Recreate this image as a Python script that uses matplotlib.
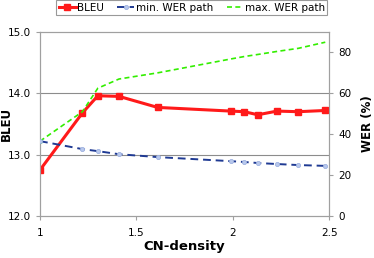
import matplotlib
matplotlib.use("Agg")
import matplotlib.pyplot as plt

plt.rcParams['font.family'] = ['DejaVu Sans']

bleu_x = [1.0, 1.22, 1.30, 1.41, 1.61, 1.99, 2.06, 2.13, 2.23, 2.34, 2.48]
bleu_y = [12.75, 13.68, 13.96, 13.95, 13.77, 13.71, 13.70, 13.65, 13.71, 13.70, 13.72]
min_wer = [36.6, 32.7, 31.7, 30.2, 28.8, 26.8, 26.4, 25.9, 25.4, 24.9, 24.5]
max_wer = [36.6, 51.0, 62.5, 67.0, 70.0, 76.8, 78.0, 79.0, 80.5, 82.0, 85.0]

xticks = [1, 1.5, 2, 2.5]
xtick_labels = ["1", "1.5", "2", "2.5"]
bleu_ticks = [12.0, 13.0, 14.0, 15.0]
wer_ticks = [0, 20, 40, 60, 80]

fig = plt.figure(figsize=(3.74, 2.58), dpi=100)
ax = fig.add_axes([0.107, 0.163, 0.773, 0.713])
ax2 = ax.twinx()

ax.set_xlim(1, 2.5)
ax.set_ylim(12, 15)
ax2.set_ylim(0, 90)

ax.set_yticks(bleu_ticks)
ax.set_yticklabels([f"{t:.1f}" for t in bleu_ticks])
ax.set_xticks(xticks)
ax.set_xticklabels(xtick_labels)
ax2.set_yticks(wer_ticks)

for y in [13.0, 14.0]:
    ax.axhline(y, color='#8c8c8c', lw=0.8, zorder=0)

l1, = ax.plot(bleu_x, bleu_y, color='#ff1a1a', lw=2.2, marker='s', ms=4,
              mfc='#ff1a1a', mec='#ff1a1a', zorder=5, label='BLEU')
l2, = ax2.plot(bleu_x, min_wer, color='#1f3a93', lw=1.4, ls=(0, (4, 2.5)),
               marker='o', ms=3, mfc='#b8c8ec', mec='#9fb2e0', mew=0.6,
               zorder=4, label='min. WER path')
l3, = ax2.plot(bleu_x, max_wer, color='#33ee00', lw=1.2, ls=(0, (3, 2)),
               zorder=3, label='max. WER path')
ax2.plot(bleu_x[:1], max_wer[:1], ls='none', marker='o', ms=3,
         mfc='#e8ffe0', mec='#33ee00', mew=0.6, zorder=3)

for a in (ax, ax2):
    for s in a.spines.values():
        s.set_color('#a0a0a0')
        s.set_linewidth(0.8)
    a.tick_params(colors='#a0a0a0', labelcolor='black', labelsize=7.5, length=3, width=0.8)
ax.tick_params(axis='x', pad=6)

ax.set_xlabel('CN-density', fontsize=9.5, fontweight='bold', labelpad=1)
ax.set_ylabel('BLEU', fontsize=8.5, fontweight='bold')
ax.yaxis.set_label_coords(-0.094, 0.5)
ax2.set_ylabel('WER (%)', fontsize=8.5, fontweight='bold')
ax2.yaxis.set_label_coords(1.11, 0.5)

leg = fig.legend(handles=[l1, l2, l3], loc='upper center', bbox_to_anchor=(0.513, 1.0),
                 ncol=3, fontsize=7.5, frameon=True, fancybox=False, handlelength=1.6,
                 handletextpad=0.15, columnspacing=1.3, borderpad=0.25,
                 borderaxespad=0.0)
leg.get_frame().set_edgecolor('#808080')
leg.get_frame().set_linewidth(0.8)

fig.savefig('out.png', dpi=100)
